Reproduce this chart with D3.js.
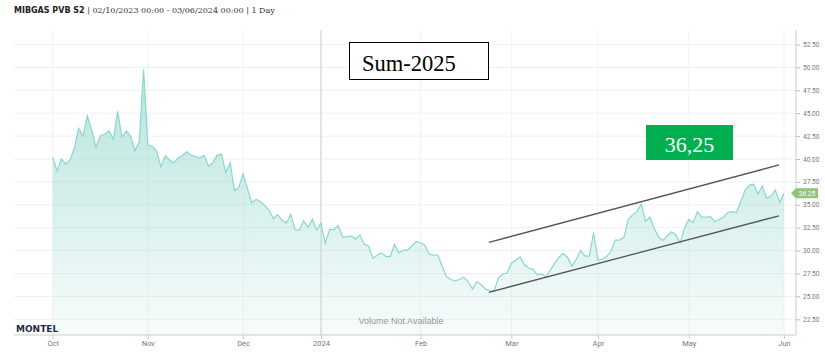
<!DOCTYPE html>
<html>
<head>
<meta charset="utf-8">
<script src="https://cdn.jsdelivr.net/npm/d3@7"></script>
<style>
  body { margin: 0; background: #fff; }
  svg { display: block; }
</style>
</head>
<body>
<div id="chart"></div>
<script>
var svgWidth = 825;
var svgHeight = 363;

// daily settlement prices, one per trading day (02/10/2023 .. 03/06/2024)
var prices = [
  40.2, 38.7, 40.0, 39.45, 39.9, 41.2, 43.35, 42.5, 44.7, 43.2,
  41.3, 42.55, 42.7, 43.1, 42.15, 45.2, 42.4, 43.05, 42.5, 40.9,
  41.9, 49.8, 41.5, 41.4, 40.9, 39.15, 40.35, 39.9, 39.6, 40.1,
  40.4, 40.8, 40.4, 40.3, 40.1, 40.4, 39.2, 39.6, 40.4, 40.55,
  38.5, 39.6, 36.55, 36.9, 38.35, 36.8, 35.2, 35.6, 35.35, 34.9,
  34.4, 33.5, 33.9, 33.3, 33.0, 33.95, 32.3, 32.25, 33.25, 32.55,
  33.4, 32.25, 33.0, 30.8, 32.3, 32.3, 32.7, 31.5, 31.5, 31.6,
  31.25, 31.7, 30.7, 30.5, 29.15, 29.5, 29.75, 29.35, 29.35, 30.7,
  29.75, 30.05, 30.05, 30.5, 31.0, 30.85, 30.6, 29.6, 29.5, 29.5,
  28.3, 27.15, 26.85, 26.7, 26.85, 27.1, 26.6, 25.8, 26.6, 26.3,
  25.8, 25.6, 25.6, 27.0, 27.45, 27.55, 28.6, 28.95, 29.3, 28.45,
  28.1, 27.95, 27.35, 27.45, 27.15, 27.9, 28.6, 29.25, 29.7, 29.25,
  28.3, 29.05, 30.0, 29.4, 29.4, 31.95, 28.95, 29.05, 29.35, 29.9,
  31.15, 31.15, 31.45, 33.4, 33.9, 34.25, 35.1, 33.2, 33.65, 32.45,
  31.5, 31.1, 31.6, 32.05, 31.7, 30.85, 32.45, 33.4, 33.05, 34.25,
  33.65, 33.65, 33.7, 33.15, 33.4, 33.65, 34.15, 34.25, 34.15, 35.35,
  36.6, 37.15, 37.25, 36.2, 37.05, 35.7, 35.95, 36.6, 35.25, 36.25
];

// month labels and the trading-day index where each month starts
var monthLabels = ["Oct", "Nov", "Dec", "2024", "Feb", "Mar", "Apr", "May", "Jun"];
var monthStart = [0, 22, 44, 62, 85, 106, 126, 147, 169];

var yTicks = [22.5, 25, 27.5, 30, 32.5, 35, 37.5, 40, 42.5, 45, 47.5, 50, 52.5];

// hand-drawn trend channel: [dayIndex, price]
var upperTrend = [[100.8, 30.9], [167.85, 39.35]];
var lowerTrend = [[100.8, 25.45], [167.85, 33.8]];

var plotLeft = 14, plotRight = 796, plotTop = 30, plotBottom = 335;

var svg = d3.select("#chart")
  .append("svg")
  .attr("width", svgWidth)
  .attr("height", svgHeight);

var xScale = d3.scaleLinear()
  .domain([0, prices.length - 1])
  .range([52.7, 784]);

var yScale = d3.scaleLinear()
  .domain([22.5, 52.5])
  .range([319.3, 44.5]);

// gradient for the area
var defs = svg.append("defs");
var grad = defs.append("linearGradient")
  .attr("id", "areaFill")
  .attr("gradientUnits", "userSpaceOnUse")
  .attr("x1", 0).attr("y1", yScale(50))
  .attr("x2", 0).attr("y2", plotBottom);
grad.append("stop").attr("offset", "0%").attr("stop-color", "#a3dcd4").attr("stop-opacity", 0.8);
grad.append("stop").attr("offset", "100%").attr("stop-color", "#a3dcd4").attr("stop-opacity", 0.08);

// horizontal grid
svg.append("g")
  .selectAll("line")
  .data(yTicks)
  .enter().append("line")
  .attr("x1", plotLeft).attr("x2", plotRight)
  .attr("y1", d => yScale(d)).attr("y2", d => yScale(d))
  .attr("stroke", "#f0f0f0")
  .attr("stroke-width", 1);

// vertical grid at month starts
svg.append("g")
  .selectAll("line")
  .data(monthStart)
  .enter().append("line")
  .attr("x1", d => xScale(d)).attr("x2", d => xScale(d))
  .attr("y1", plotTop).attr("y2", plotBottom)
  .attr("stroke", (d, i) => monthLabels[i] == "2024" ? "#e4e4e4" : "#f2f2f2")
  .attr("stroke-width", (d, i) => monthLabels[i] == "2024" ? 2 : 1);

// area + line
var area = d3.area()
  .x((d, i) => xScale(i))
  .y0(plotBottom)
  .y1(d => yScale(d));

var line = d3.line()
  .x((d, i) => xScale(i))
  .y(d => yScale(d));

svg.append("path")
  .datum(prices)
  .attr("d", area)
  .attr("fill", "url(#areaFill)");

svg.append("path")
  .datum(prices)
  .attr("d", line)
  .attr("fill", "none")
  .attr("stroke", "#8ad7cc")
  .attr("stroke-width", 1.2);

// trend channel
[upperTrend, lowerTrend].forEach(function(t) {
  svg.append("line")
    .attr("x1", xScale(t[0][0])).attr("y1", yScale(t[0][1]))
    .attr("x2", xScale(t[1][0])).attr("y2", yScale(t[1][1]))
    .attr("stroke", "#555")
    .attr("stroke-width", 1.3);
});

// y axis on the right
var rightAxis = d3.axisRight(yScale)
  .tickValues(yTicks)
  .tickSize(4)
  .tickPadding(3)
  .tickFormat(d3.format(".2f"));

var yAxisG = svg.append("g")
  .attr("transform", `translate(${plotRight}, 0)`)
  .call(rightAxis);
yAxisG.select(".domain").remove();
yAxisG.selectAll(".tick line").attr("stroke", "#bbb");
yAxisG.selectAll(".tick text")
  .attr("fill", "#777")
  .style("font-family", "Roboto, sans-serif")
  .style("font-size", "6.5px");

svg.append("line")
  .attr("x1", plotRight).attr("x2", plotRight)
  .attr("y1", plotTop).attr("y2", plotBottom)
  .attr("stroke", "#ccc");

// bottom axis
var bottomAxis = d3.axisBottom(xScale)
  .tickValues(monthStart)
  .tickSize(4)
  .tickPadding(2)
  .tickFormat((d, i) => monthLabels[i]);

var xAxisG = svg.append("g")
  .attr("transform", `translate(0, ${plotBottom})`)
  .call(bottomAxis);
xAxisG.select(".domain").remove();
xAxisG.selectAll(".tick line").attr("stroke", "#ccc");
xAxisG.selectAll(".tick text")
  .attr("fill", "#777")
  .style("font-family", "Roboto, sans-serif")
  .style("font-size", "7.5px");

svg.append("line")
  .attr("x1", plotLeft).attr("x2", plotRight)
  .attr("y1", plotBottom).attr("y2", plotBottom)
  .attr("stroke", "#ccc");

// last price flag
var last = prices[prices.length - 1];
var fy = yScale(last);
svg.append("path")
  .attr("d", `M${plotRight - 5},${fy} L${plotRight},${fy - 5} L${plotRight + 22},${fy - 5} L${plotRight + 22},${fy + 5} L${plotRight},${fy + 5} Z`)
  .attr("fill", "#8dc47e");
svg.append("text")
  .attr("x", plotRight + 11).attr("y", fy + 2.4)
  .attr("text-anchor", "middle")
  .attr("fill", "#fff")
  .style("font-family", "Roboto, sans-serif")
  .style("font-size", "6.5px")
  .text(d3.format(".2f")(last));

// title
var title = svg.append("text")
  .attr("x", 14).attr("y", 13)
  .style("font-size", "8px")
  .attr("fill", "#333");
title.append("tspan")
  .style("font-family", "'DejaVu Sans', sans-serif")
  .style("font-weight", "bold")
  .attr("fill", "#222")
  .text("MIBGAS PVB S2");
title.append("tspan")
  .style("font-family", "'DejaVu Serif', serif")
  .text(" | 02/10/2023 00:00 - 03/06/2024 00:00 | 1 Day");

// watermark texts
svg.append("text")
  .attr("x", 16).attr("y", 332)
  .attr("fill", "#1d2b4c")
  .style("font-family", "'DejaVu Sans', sans-serif")
  .style("font-weight", "bold")
  .style("font-size", "9px")
  .text("MONTEL");

svg.append("text")
  .attr("x", 401).attr("y", 324)
  .attr("text-anchor", "middle")
  .attr("fill", "#999")
  .style("font-family", "'Liberation Sans', Arial, sans-serif")
  .style("font-size", "9px")
  .text("Volume Not Available");

// annotation boxes
svg.append("rect")
  .attr("x", 349.5).attr("y", 42.5)
  .attr("width", 139).attr("height", 37)
  .attr("fill", "#fff")
  .attr("stroke", "#000")
  .attr("stroke-width", 1);
svg.append("text")
  .attr("x", 362).attr("y", 71)
  .attr("fill", "#000")
  .style("font-family", "'Liberation Serif', 'Times New Roman', serif")
  .style("font-size", "22.5px")
  .text("Sum-2025");

svg.append("rect")
  .attr("x", 646).attr("y", 125)
  .attr("width", 87).attr("height", 35)
  .attr("fill", "#00b050");
svg.append("text")
  .attr("x", 689.5).attr("y", 152)
  .attr("text-anchor", "middle")
  .attr("fill", "#fff")
  .style("font-family", "'Liberation Serif', 'Times New Roman', serif")
  .style("font-size", "22px")
  .text("36,25");
</script>
</body>
</html>
